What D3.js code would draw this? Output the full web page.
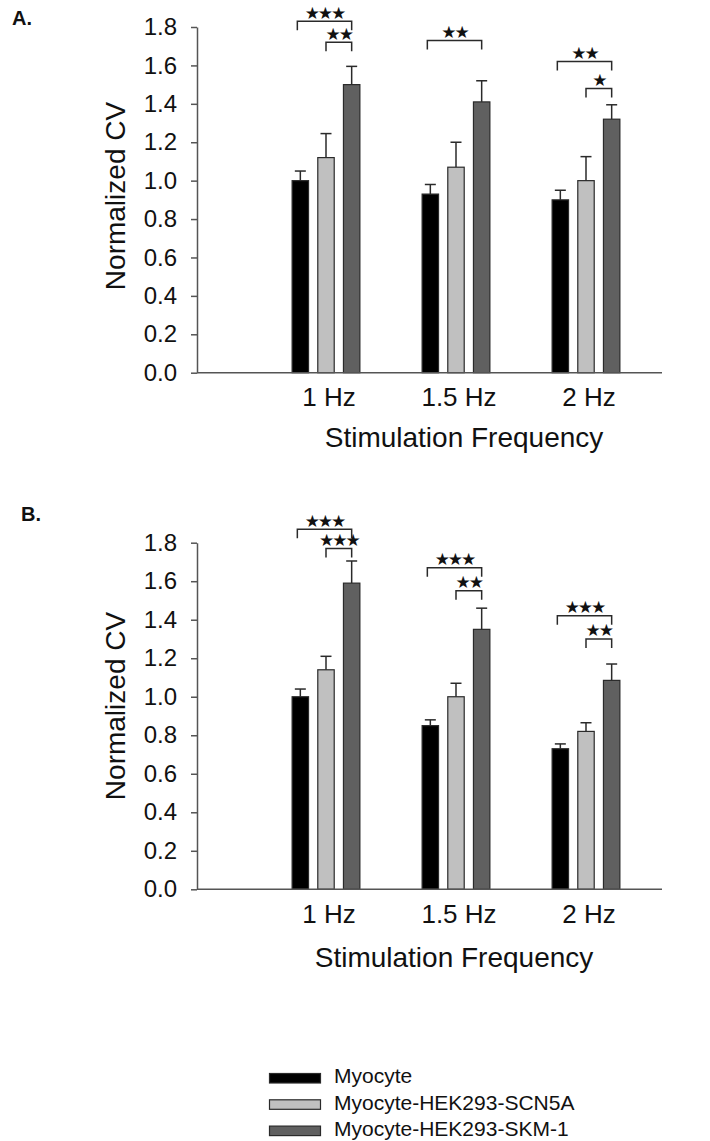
<!DOCTYPE html>
<html>
<head>
<meta charset="utf-8">
<script src="https://cdn.jsdelivr.net/npm/d3@7"></script>
<style>
  body { margin: 0; background: #fff; }
  text { font-family: "Liberation Sans", Arial, sans-serif; fill: #111; }
</style>
</head>
<body>
<svg id="chart" width="710" height="1141"></svg>
<script>
// Stimulation frequencies and cell groups
const categories = ["1 Hz", "1.5 Hz", "2 Hz"];
const series = ["Myocyte", "Myocyte-HEK293-SCN5A", "Myocyte-HEK293-SKM-1"];
const yTicks = [0, 0.2, 0.4, 0.6, 0.8, 1.0, 1.2, 1.4, 1.6, 1.8];

// Panel A: normalized conduction velocity, mean and SEM per frequency (rows) and group (columns)
const meansA  = [[1.00, 1.12, 1.50], [0.93, 1.07, 1.41], [0.90, 1.00, 1.32]];
const errorsA = [[0.05, 0.125, 0.095], [0.05, 0.13, 0.11], [0.05, 0.125, 0.075]];

// Panel B
const meansB  = [[1.00, 1.14, 1.59], [0.85, 1.00, 1.35], [0.73, 0.82, 1.085]];
const errorsB = [[0.04, 0.07, 0.115], [0.03, 0.07, 0.11], [0.025, 0.045, 0.085]];

// Significance brackets: frequency index, the two groups compared, bracket level, stars
const bracketsA = [
  { group: 0, from: 0, to: 2, level: 1.83, stars: 3 },
  { group: 0, from: 1, to: 2, level: 1.72, stars: 2 },
  { group: 1, from: 0, to: 2, level: 1.73, stars: 2 },
  { group: 2, from: 0, to: 2, level: 1.62, stars: 2 },
  { group: 2, from: 1, to: 2, level: 1.48, stars: 1 }
];
const bracketsB = [
  { group: 0, from: 0, to: 2, level: 1.87, stars: 3 },
  { group: 0, from: 1, to: 2, level: 1.77, stars: 3 },
  { group: 1, from: 0, to: 2, level: 1.67, stars: 3 },
  { group: 1, from: 1, to: 2, level: 1.55, stars: 2 },
  { group: 2, from: 0, to: 2, level: 1.42, stars: 3 },
  { group: 2, from: 1, to: 2, level: 1.30, stars: 2 }
];

const fills = ["#000000", "#c0c0c0", "#606060"];
const ink = "#2a2a2a";

const svg = d3.select("#chart");
svg.append("rect").attr("width", 710).attr("height", 1141).attr("fill", "#fff");

const panels = [
  { tag: "A.", means: meansA, errors: errorsA, brackets: bracketsA,
    top: 27, bottom: 372.7, tagX: 12, tagY: 25, titleX: 464, titleY: 447, yTitleY: 196 },
  { tag: "B.", means: meansB, errors: errorsB, brackets: bracketsB,
    top: 542.7, bottom: 889.3, tagX: 21, tagY: 521, titleX: 454, titleY: 967, yTitleY: 706 }
];

const axisLeft = 197, axisRight = 662;

const x0 = d3.scaleBand().domain(categories).range([261, 651]).paddingInner(0).paddingOuter(0);
const x1 = d3.scaleBand().domain(d3.range(series.length)).range([-38.5, 38.5])
  .paddingInner(0.36).paddingOuter(0.18);

panels.forEach(p => {
  const g = svg.append("g");
  const y = d3.scaleLinear().domain([0, 1.8]).range([p.bottom, p.top]);
  const cx = (gi, si) => x0(categories[gi]) + x0.bandwidth() / 2 + x1(si) + x1.bandwidth() / 2;

  // panel tag
  g.append("text").attr("x", p.tagX).attr("y", p.tagY)
    .attr("font-size", 20).attr("font-weight", "bold").text(p.tag);

  // y axis
  const ya = g.append("g").attr("transform", `translate(${axisLeft},0)`)
    .call(d3.axisLeft(y).tickValues(yTicks).tickFormat(d3.format(".1f"))
      .tickSize(6).tickSizeOuter(0).tickPadding(14));
  ya.select(".domain").attr("stroke", "#555").attr("stroke-width", 1.5);
  ya.selectAll(".tick line").attr("stroke", "#555").attr("stroke-width", 1.5);
  ya.selectAll(".tick text").attr("font-size", 24).attr("fill", "#111")
    .attr("font-family", "Liberation Sans, Arial, sans-serif");

  // y title
  g.append("text").attr("transform", `translate(125,${p.yTitleY}) rotate(-90)`)
    .attr("text-anchor", "middle").attr("font-size", 28).text("Normalized CV");

  // bars
  const groups = g.selectAll("g.grp").data(p.means).join("g").attr("class", "grp");
  groups.each(function (row, gi) {
    const gg = d3.select(this);
    row.forEach((v, si) => {
      const left = x0(categories[gi]) + x0.bandwidth() / 2 + x1(si);
      const top = y(v);
      const errTop = y(v + p.errors[gi][si]);
      const c = left + x1.bandwidth() / 2;
      // error whisker (upper only)
      gg.append("line").attr("x1", c).attr("x2", c).attr("y1", top).attr("y2", errTop)
        .attr("stroke", ink).attr("stroke-width", 1.5);
      gg.append("line").attr("x1", c - 5.5).attr("x2", c + 5.5).attr("y1", errTop).attr("y2", errTop)
        .attr("stroke", ink).attr("stroke-width", 1.5);
      gg.append("rect").attr("x", left).attr("y", top)
        .attr("width", x1.bandwidth()).attr("height", y(0) - top)
        .attr("fill", fills[si]).attr("stroke", ink).attr("stroke-width", 1.2);
    });
  });

  // x baseline
  g.append("line").attr("x1", axisLeft).attr("x2", axisRight).attr("y1", y(0)).attr("y2", y(0))
    .attr("stroke", "#555").attr("stroke-width", 1.5);

  // category labels
  const xa = g.append("g").attr("transform", `translate(3,${y(0)})`)
    .call(d3.axisBottom(x0).tickSize(0).tickPadding(15));
  xa.select(".domain").remove();
  xa.selectAll(".tick text").attr("font-size", 26).attr("fill", "#111")
    .attr("font-family", "Liberation Sans, Arial, sans-serif");

  // x title
  g.append("text").attr("x", p.titleX).attr("y", p.titleY).attr("text-anchor", "middle")
    .attr("font-size", 28).text("Stimulation Frequency");

  // significance brackets
  p.brackets.forEach(b => {
    const xa0 = cx(b.group, b.from) - (b.from === 0 ? 3 : 0);
    const xb = cx(b.group, b.to);
    const yl = y(b.level);
    g.append("path")
      .attr("d", `M${xa0},${yl + 9}V${yl}H${xb}V${yl + 9}`)
      .attr("fill", "none").attr("stroke", ink).attr("stroke-width", 1.5);
    g.append("text").attr("x", (xa0 + xb) / 2).attr("y", yl - 2.5)
      .attr("text-anchor", "middle").attr("font-size", 17)
      .attr("letter-spacing", -2)
      .style("font-family", "DejaVu Sans, sans-serif")
      .text("★".repeat(b.stars));
  });
});

// legend
const legend = svg.append("g").attr("transform", "translate(269,1073)");
series.forEach((s, i) => {
  const row = legend.append("g").attr("transform", `translate(0,${i * 26.3})`);
  row.append("rect").attr("x", 0.5).attr("y", 0.5).attr("width", 51).attr("height", 9.5)
    .attr("fill", fills[i]).attr("stroke", ink).attr("stroke-width", 1.2);
  row.append("text").attr("x", 65).attr("y", 10.3).attr("font-size", 21).text(s);
});
</script>
</body>
</html>
